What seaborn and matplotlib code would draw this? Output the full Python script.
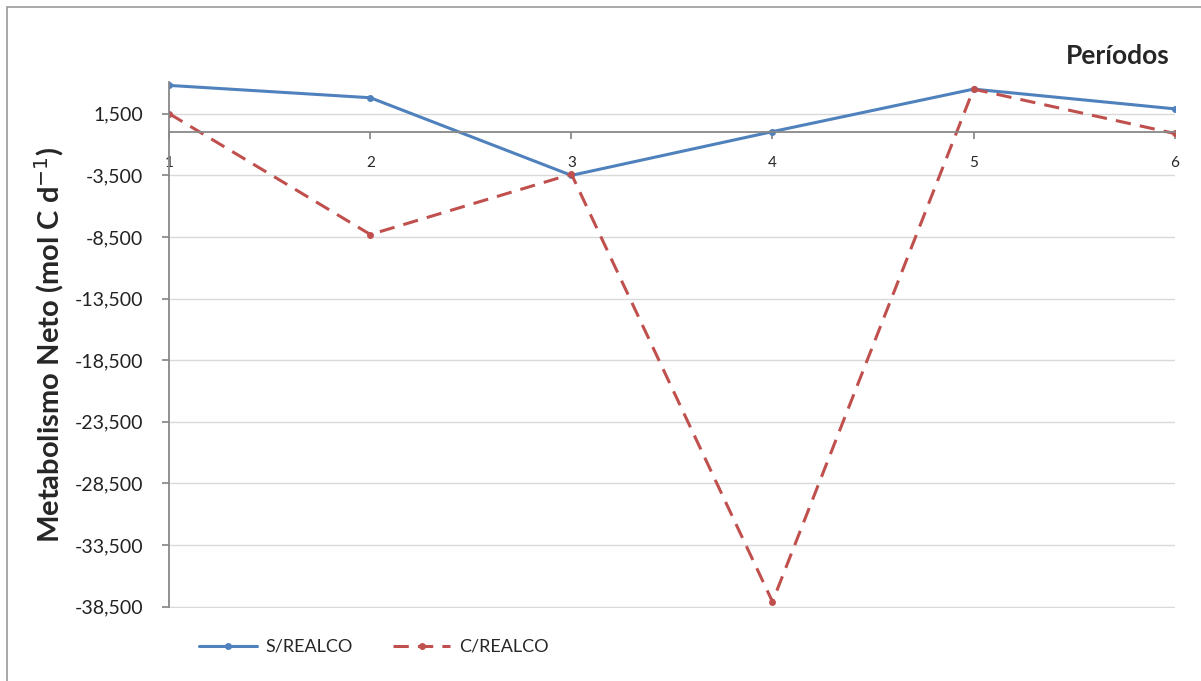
import pandas as pd
import matplotlib.pyplot as plt
import matplotlib.patches as patches
import seaborn as sns

# Data
periodos = [1, 2, 3, 4, 5, 6]
s_realco = [3800, 2800, -3500, 50, 3500, 1900]
c_realco = [1500, -8300, -3400, -38100, 3500, -100]
series_names = ["S/REALCO", "C/REALCO"]
y_ticks = [1500, -3500, -8500, -13500, -18500, -23500, -28500, -33500, -38500]

df = pd.DataFrame({
    "Periodo": periodos * 2,
    "Valor": s_realco + c_realco,
    "Serie": [series_names[0]] * 6 + [series_names[1]] * 6,
})

sns.set_theme(style="white")
plt.rcParams["font.family"] = ["Lato", "DejaVu Sans"]

fig = plt.figure(figsize=(12.01, 6.81), dpi=100)
ax = fig.add_axes([0.141, 0.107, 0.837, 0.773])

palette = {"S/REALCO": "#4F81BD", "C/REALCO": "#C0504D"}
sns.lineplot(data=df, x="Periodo", y="Valor", hue="Serie", style="Serie",
             palette=palette, dashes={"S/REALCO": "", "C/REALCO": (5, 3)},
             markers={"S/REALCO": "o", "C/REALCO": "o"}, markersize=5,
             markeredgewidth=0, linewidth=2.2, ax=ax)

ax.set_xlim(1, 6)
ax.set_ylim(-38620, 4100)
ax.set_yticks(y_ticks)
ax.set_yticklabels([f"{v:,}" for v in y_ticks], fontsize=14, color="#222222")
ax.set_xticks(periodos)
ax.set_xticklabels([str(p) for p in periodos], fontsize=14, color="#222222")

ax.grid(axis="y", color="#D9D9D9", linewidth=1)
ax.grid(axis="x", visible=False)
for s in ["top", "right"]:
    ax.spines[s].set_visible(False)
ax.spines["bottom"].set_position(("data", 0))
ax.spines["bottom"].set_color("#888888")
ax.spines["left"].set_color("#888888")
ax.spines["bottom"].set_linewidth(1.3)
ax.spines["left"].set_linewidth(1.3)
ax.spines["left"].set_bounds(-38500, 4100)
ax.tick_params(axis="x", direction="out", length=5, color="#888888", pad=12, bottom=True)
ax.tick_params(axis="y", direction="out", length=5, color="#888888", pad=14, left=True)

ax.set_xlabel("")
ax.set_ylabel("Metabolismo Neto (mol C d$^{-1}$)", fontsize=21, fontweight="bold",
              labelpad=6)
fig.text(0.974, 0.918, "Períodos", fontsize=19, fontweight="bold", ha="right", va="center")

handles, labels = ax.get_legend_handles_labels()
ax.legend(handles, labels, ncol=2, frameon=False, fontsize=13,
          loc="center left", bbox_to_anchor=(0.152, 0.05),
          bbox_transform=fig.transFigure, handlelength=3.2, handletextpad=0.5,
          columnspacing=2.2)

fig.patches.append(patches.Rectangle((0.006, -0.01), 1.0, 1.0, transform=fig.transFigure,
                                     fill=False, edgecolor="#999999", linewidth=1.2))

fig.savefig("out.png", dpi=100)
